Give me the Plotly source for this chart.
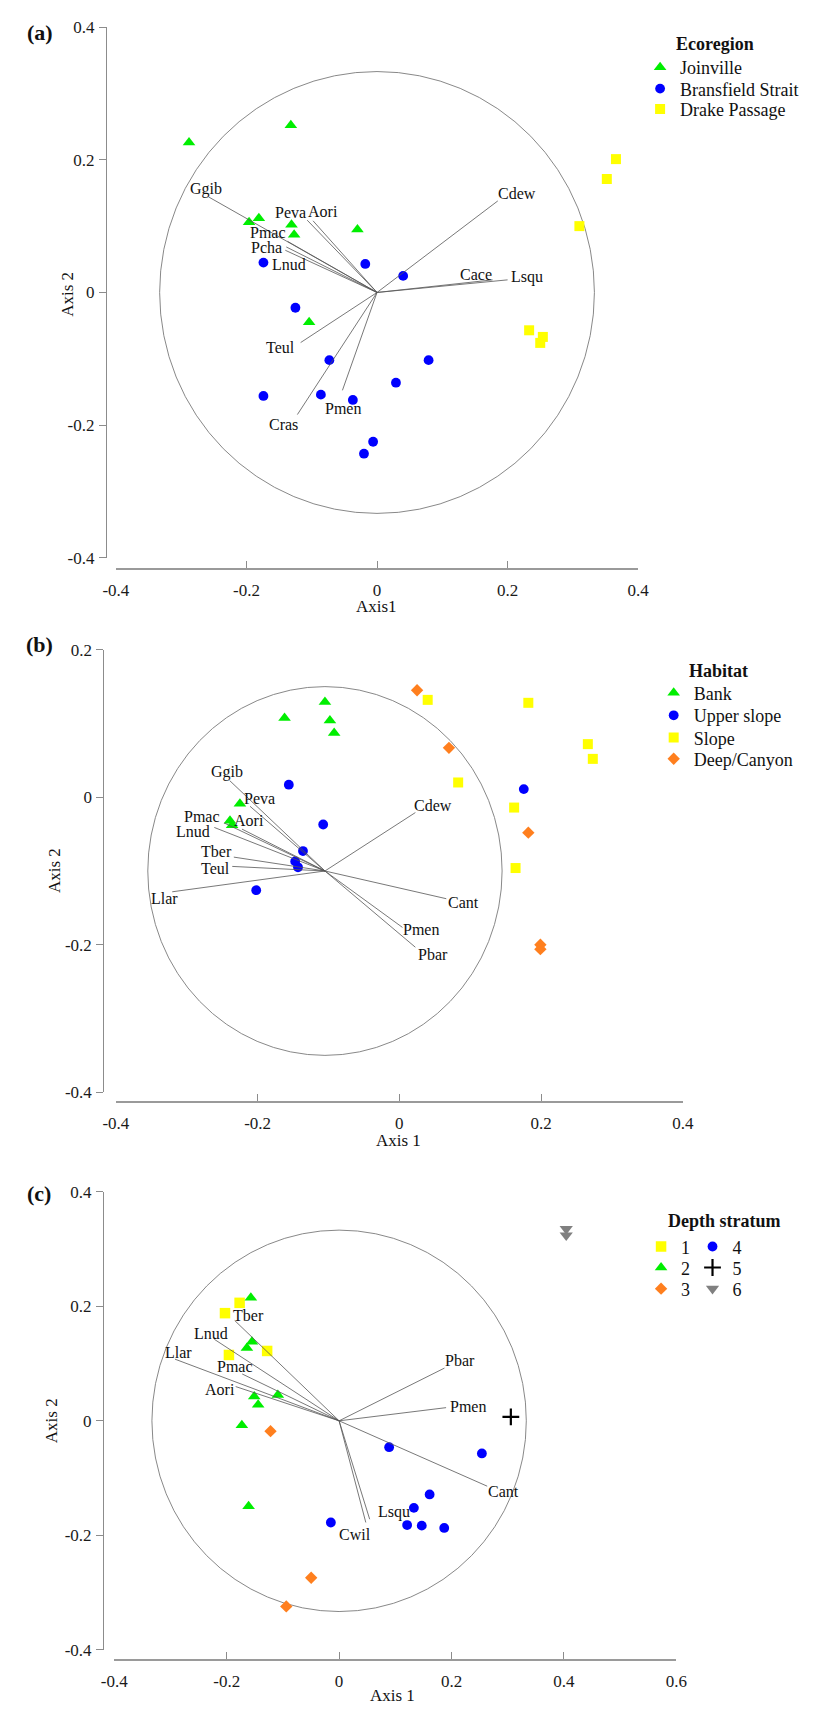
import plotly.graph_objects as go

W, H = 820, 1714
FONT = "Liberation Serif, Times New Roman, serif"

# ---------------- DATA ----------------
# Panel (a) - Ecoregion
a_joinville_x = [-0.288, -0.132, -0.196, -0.181, -0.131, -0.127, -0.030, -0.104]
a_joinville_y = [0.226, 0.252, 0.106, 0.112, 0.102, 0.087, 0.095, -0.045]
a_bransfield_x = [-0.174, -0.018, 0.040, -0.125, -0.073, 0.079, 0.029, -0.174, -0.086, -0.037, -0.006, -0.020]
a_bransfield_y = [0.045, 0.043, 0.025, -0.023, -0.102, -0.102, -0.136, -0.156, -0.154, -0.162, -0.225, -0.243]
a_drake_x = [0.366, 0.352, 0.310, 0.233, 0.254, 0.250]
a_drake_y = [0.201, 0.171, 0.100, -0.057, -0.067, -0.076]
a_vec_names = ["Ggib", "Peva", "Aori", "Pmac", "Pcha", "Lnud", "Cdew", "Cace", "Lsqu", "Teul", "Cras", "Pmen"]
a_vec_x = [-0.258, -0.107, -0.098, -0.137, -0.139, -0.1405, 0.185, 0.177, 0.200, -0.117, -0.122, -0.053]
a_vec_y = [0.144, 0.109, 0.108, 0.077, 0.0686, 0.0636, 0.138, 0.019, 0.019, -0.0755, -0.184, -0.1475]
a_origin = (0.0, 0.0)
a_circle_r = 0.333

# Panel (b) - Habitat
b_bank_x = [-0.105, -0.162, -0.098, -0.092, -0.225, -0.239, -0.236]
b_bank_y = [0.129, 0.1075, 0.104, 0.087, -0.009, -0.032, -0.038]
b_upper_x = [-0.156, -0.1075, -0.136, -0.147, -0.143, -0.202, 0.1756]
b_upper_y = [0.017, -0.037, -0.073, -0.087, -0.095, -0.126, 0.011]
b_slope_x = [0.040, 0.182, 0.266, 0.273, 0.083, 0.162, 0.164]
b_slope_y = [0.132, 0.128, 0.072, 0.052, 0.020, -0.014, -0.096]
b_deep_x = [0.025, 0.070, 0.182, 0.199, 0.199]
b_deep_y = [0.145, 0.067, -0.048, -0.200, -0.206]
b_vec_names = ["Ggib", "Peva", "Pmac", "Aori", "Lnud", "Tber", "Teul", "Llar", "Cdew", "Cant", "Pmen", "Pbar"]
b_vec_x = [-0.2395, -0.2107, -0.2474, -0.2221, -0.2611, -0.2336, -0.2358, -0.3205, 0.0226, 0.0662, 0.0044, 0.0226]
b_vec_y = [0.0226, -0.0123, -0.0348, -0.0432, -0.041, -0.0812, -0.0938, -0.1282, -0.0208, -0.1376, -0.1765, -0.2034]
b_origin = (-0.105, -0.100)
b_circle_r = 0.25

# Panel (c) - Depth stratum
c_s1_x = [-0.203, -0.177, -0.196, -0.128]
c_s1_y = [0.188, 0.206, 0.115, 0.122]
c_s2_x = [-0.157, -0.155, -0.164, -0.109, -0.151, -0.144, -0.173, -0.161]
c_s2_y = [0.215, 0.138, 0.127, 0.045, 0.0425, 0.028, -0.0076, -0.149]
c_s3_x = [-0.122, -0.0497, -0.094]
c_s3_y = [-0.018, -0.274, -0.324]
c_s4_x = [0.089, 0.254, 0.161, 0.133, -0.0147, 0.121, 0.147, 0.187]
c_s4_y = [-0.046, -0.057, -0.1286, -0.152, -0.1775, -0.182, -0.183, -0.187]
c_s5_x = [0.3055]
c_s5_y = [0.007]
c_s6_x = [0.404, 0.404]
c_s6_y = [0.335, 0.324]
c_vec_names = ["Tber", "Lnud", "Llar", "Pmac", "Aori", "Pbar", "Pmen", "Cant", "Lsqu", "Cwil"]
c_vec_x = [-0.1857, -0.2219, -0.292, -0.1724, -0.184, 0.1874, 0.1903, 0.2634, 0.0544, 0.0475]
c_vec_y = [0.1751, 0.1423, 0.1077, 0.0818, 0.0598, 0.0921, 0.023, -0.1141, -0.1718, -0.1775]
c_origin = (0.0, 0.0)
c_circle_r = 0.333

# Tick labels
ticks_a_x = [-0.4, -0.2, 0, 0.2, 0.4]
ticks_a_x_text = ["-0.4", "-0.2", "0", "0.2", "0.4"]
ticks_a_y = [-0.4, -0.2, 0, 0.2, 0.4]
ticks_a_y_text = ["-0.4", "-0.2", "0", "0.2", "0.4"]
ticks_b_x = [-0.4, -0.2, 0, 0.2, 0.4]
ticks_b_x_text = ["-0.4", "-0.2", "0", "0.2", "0.4"]
ticks_b_y = [-0.4, -0.2, 0, 0.2]
ticks_b_y_text = ["-0.4", "-0.2", "0", "0.2"]
ticks_c_x = [-0.4, -0.2, 0, 0.2, 0.4, 0.6]
ticks_c_x_text = ["-0.4", "-0.2", "0", "0.2", "0.4", "0.6"]
ticks_c_y = [-0.4, -0.2, 0, 0.2, 0.4]
ticks_c_y_text = ["-0.4", "-0.2", "0", "0.2", "0.4"]

# ---------------- STYLE ----------------
GREEN = "#00ee00"
BLUE = "#0000ff"
YELLOW = "#ffff00"
ORANGE = "#ff7f1e"
GRAY = "#808080"
AXIS_COL = "#8c8c8c"
VEC_COL = "#555555"
CIRC_COL = "#7a7a7a"

# label offsets in px (dx right, dy down) relative to vector end
a_lab_off = {"Ggib": (-3, -8), "Peva": (-17, -8), "Aori": (10, -9), "Pmac": (-20, -9), "Pcha": (-20, 1),
             "Lnud": (4, 14), "Cdew": (19, -7), "Cace": (-17, -5), "Lsqu": (19, -3), "Teul": (-20, 5),
             "Cras": (-14, 10), "Pmen": (1, 18)}
b_lab_off = {"Ggib": (-3, -9), "Peva": (9, -8), "Pmac": (-22, -6), "Aori": (7, -9), "Lnud": (-21, 4),
             "Tber": (-17, -6), "Teul": (-17, 2), "Llar": (-8, 7), "Cdew": (18, -7), "Cant": (17, 4),
             "Pmen": (19, 2), "Pbar": (18, 7)}
c_lab_off = {"Tber": (14, -5), "Lnud": (-3, -6), "Llar": (4, -7), "Pmac": (-7, -7), "Aori": (-16, 3),
             "Pbar": (16, -8), "Pmen": (22, -1), "Cant": (16, 5), "Lsqu": (24, -7), "Cwil": (-11, 12)}

# subplot geometry in pixels
panels = {
    "a": dict(x0=106, x1=644, y0=18.3, y1=555, xline=566, yline=95.7),
    "b": dict(x0=106, x1=690, y0=647.9, y1=1095.4, xline=1105, yline=93),
    "c": dict(x0=104.3, x1=683.4, y0=1196, y1=1659.3, xline=1669.3, yline=92.7),
}


def pxx(px):
    return px / W


def pxy(py):
    return 1 - py / H


fig = go.Figure()

tickfont = dict(family=FONT, size=17, color="#1a1a1a")


def set_axes(idx, key, xr, yr, xt, xtt, yt, ytt):
    g = panels[key]
    sfx = "" if idx == 1 else str(idx)
    fig.update_layout(**{
        "xaxis" + sfx: dict(domain=[pxx(g["x0"]), pxx(g["x1"])], range=xr, anchor="free",
                            position=pxy(g["xline"]), showgrid=False, zeroline=False,
                            showline=True, linecolor="#9a9a9a", linewidth=1.6,
                            ticks="inside", ticklen=7, tickwidth=1, tickcolor=AXIS_COL,
                            tickmode="array", tickvals=xt, ticktext=xtt, tickfont=tickfont,
                            ticklabelstandoff=6, fixedrange=True),
        "yaxis" + sfx: dict(domain=[pxy(g["y1"]), pxy(g["y0"])], range=yr, anchor="free",
                            position=pxx(g["yline"]), showgrid=False, zeroline=False,
                            showline=True, linecolor=AXIS_COL, linewidth=1,
                            ticks="outside", ticklen=7, tickwidth=1, tickcolor=AXIS_COL,
                            tickmode="array", tickvals=yt, ticktext=ytt, tickfont=tickfont,
                            ticklabelstandoff=1, fixedrange=True),
    })


set_axes(1, "a", [-0.4, 0.4], [-0.4, 0.4], ticks_a_x, ticks_a_x_text, ticks_a_y, ticks_a_y_text)
set_axes(2, "b", [-0.4, 0.4], [-0.4, 0.2], ticks_b_x, ticks_b_x_text, ticks_b_y, ticks_b_y_text)
set_axes(3, "c", [-0.4, 0.6], [-0.4, 0.4], ticks_c_x, ticks_c_x_text, ticks_c_y, ticks_c_y_text)

legend_count = [0]
legend_layouts = {}


def add_points(xs, ys, name, symbol, color, size, axn, leg_px, leg_py, line=None):
    legend_count[0] += 1
    lkey = "legend" if legend_count[0] == 1 else "legend%d" % legend_count[0]
    mk = dict(symbol=symbol, color=color, size=size, line=dict(width=0))
    if line is not None:
        mk["line"] = line
    sfx = "" if axn == 1 else str(axn)
    fig.add_trace(go.Scatter(x=xs, y=ys, mode="markers", name=name, marker=mk,
                             xaxis="x" + sfx, yaxis="y" + sfx, legend=lkey, showlegend=True,
                             cliponaxis=False, hoverinfo="skip"))
    legend_layouts[lkey] = dict(x=pxx(leg_px - 20), y=pxy(leg_py), xanchor="left", yanchor="middle",
                                bgcolor="rgba(0,0,0,0)", borderwidth=0, itemwidth=30,
                                font=dict(family=FONT, size=18, color="#111111"),
                                itemclick=False, itemdoubleclick=False)


def add_vectors(origin, vx, vy, names, offs, axn):
    xs, ys = [], []
    for ex, ey in zip(vx, vy):
        xs += [origin[0], ex, None]
        ys += [origin[1], ey, None]
    sfx = "" if axn == 1 else str(axn)
    fig.add_trace(go.Scatter(x=xs, y=ys, mode="lines", line=dict(color=VEC_COL, width=0.8),
                             xaxis="x" + sfx, yaxis="y" + sfx, showlegend=False, hoverinfo="skip"))
    for n, ex, ey in zip(names, vx, vy):
        dx, dy = offs[n]
        fig.add_annotation(x=ex, y=ey, xref="x" + sfx, yref="y" + sfx, text=n, showarrow=False,
                           xshift=dx, yshift=-dy, font=dict(family=FONT, size=16, color="#111111"))


def add_circle(origin, r, axn):
    sfx = "" if axn == 1 else str(axn)
    fig.add_shape(type="circle", xref="x" + sfx, yref="y" + sfx,
                  x0=origin[0] - r, x1=origin[0] + r, y0=origin[1] - r, y1=origin[1] + r,
                  line=dict(color=CIRC_COL, width=0.9), layer="below")


# Panel a
add_circle(a_origin, a_circle_r, 1)
add_points(a_joinville_x, a_joinville_y, "Joinville", "triangle-up", GREEN, 11, 1, 666, 59.3)
add_points(a_bransfield_x, a_bransfield_y, "Bransfield Strait", "circle", BLUE, 9.8, 1, 666, 80.8)
add_points(a_drake_x, a_drake_y, "Drake Passage", "square", YELLOW, 10, 1, 666, 101.5)
add_vectors(a_origin, a_vec_x, a_vec_y, a_vec_names, a_lab_off, 1)

# Panel b
add_circle(b_origin, b_circle_r, 2)
add_points(b_bank_x, b_bank_y, "Bank", "triangle-up", GREEN, 11, 2, 680, 691.7)
add_points(b_upper_x, b_upper_y, "Upper slope", "circle", BLUE, 9.8, 2, 680, 714.5)
add_points(b_slope_x, b_slope_y, "Slope", "square", YELLOW, 10, 2, 680, 737)
add_points(b_deep_x, b_deep_y, "Deep/Canyon", "diamond", ORANGE, 9.5, 2, 680, 758.5)
add_vectors(b_origin, b_vec_x, b_vec_y, b_vec_names, b_lab_off, 2)

# Panel c
add_circle(c_origin, c_circle_r, 3)
add_points(c_s1_x, c_s1_y, "1", "square", YELLOW, 10.5, 3, 667, 1251.7)
add_points(c_s2_x, c_s2_y, "2", "triangle-up", GREEN, 11, 3, 667, 1272.9)
add_points(c_s3_x, c_s3_y, "3", "diamond", ORANGE, 9.5, 3, 667, 1294.3)
add_points(c_s4_x, c_s4_y, "4", "circle", BLUE, 9.8, 3, 720, 1251.7)
add_points(c_s5_x, c_s5_y, "5", "cross-thin", "#000000", 12, 3, 720, 1272.9,
           line=dict(width=2.2, color="#000000"))
add_points(c_s6_x, c_s6_y, "6", "triangle-down", GRAY, 11.5, 3, 720, 1294.3)
add_vectors(c_origin, c_vec_x, c_vec_y, c_vec_names, c_lab_off, 3)

fig.update_layout(**legend_layouts)


def paper_text(text, px, py, size, bold=False, angle=0, xanchor="center"):
    t = "<b>%s</b>" % text if bold else text
    fig.add_annotation(x=pxx(px), y=pxy(py), xref="paper", yref="paper", text=t, showarrow=False,
                       xanchor=xanchor, yanchor="middle", textangle=angle,
                       font=dict(family=FONT, size=size, color="#111111"))


# panel letters
paper_text("(a)", 27.7, 23.5, 22, bold=True)
paper_text("(b)", 27.5, 642.5, 22, bold=True)
paper_text("(c)", 26.5, 1197.5, 22, bold=True)
# legend titles
paper_text("Ecoregion", 680.7, 35.7, 18, bold=True, xanchor="left")
paper_text("Habitat", 694, 669, 18, bold=True, xanchor="left")
paper_text("Depth stratum", 672.7, 1226, 18, bold=True, xanchor="left")
# axis titles
paper_text("Axis1", 374, 604, 17)
paper_text("Axis 2", 56, 288.6, 17, angle=-90)
paper_text("Axis 1", 397.5, 1144.4, 17)
paper_text("Axis 2", 43, 871, 17, angle=-90)
paper_text("Axis 1", 391, 1705.5, 17)
paper_text("Axis 2", 39.2, 1428, 17, angle=-90)

fig.update_layout(width=W, height=H, margin=dict(l=0, r=0, t=0, b=0),
                  paper_bgcolor="white", plot_bgcolor="rgba(0,0,0,0)",
                  font=dict(family=FONT, size=16, color="#111111"), hovermode=False)

fig.write_html("out.html", config={"displayModeBar": False},
               post_script="document.body.style.margin='0';document.body.style.padding='0';"
                           "document.documentElement.style.overflow='hidden';")
